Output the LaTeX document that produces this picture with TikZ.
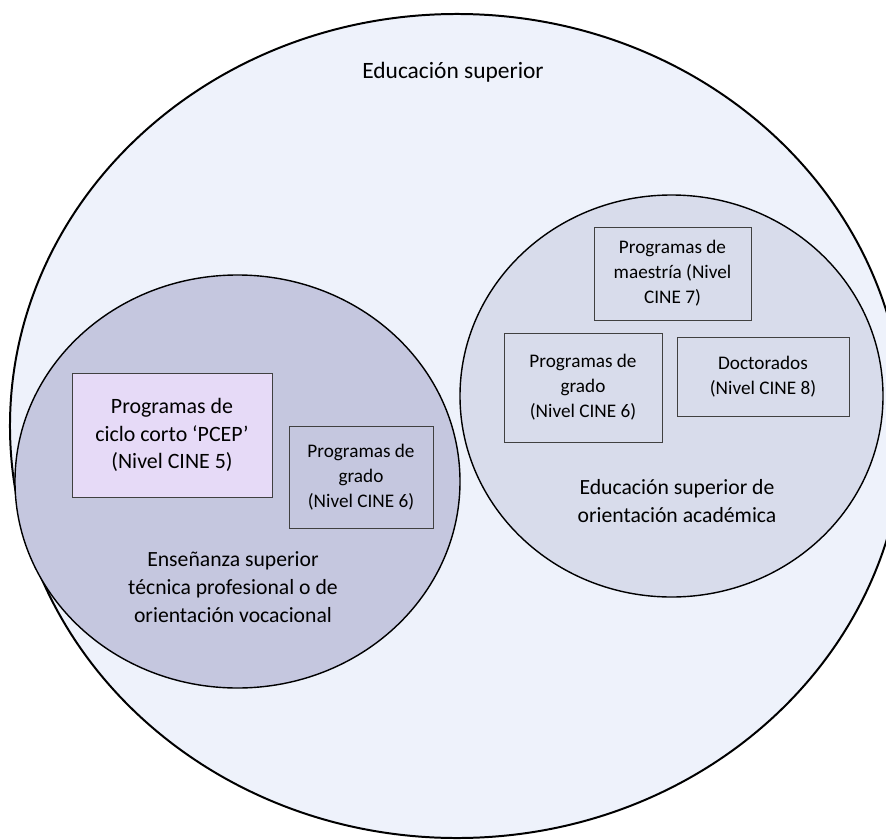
\documentclass[tikz,border=0pt]{standalone}
\usepackage{fontspec}
\setmainfont{Carlito}
\usepackage{tikz}
\usetikzlibrary{positioning,shapes.geometric}
\definecolor{outerfill}{HTML}{EEF2FB}
\definecolor{leftfill}{HTML}{C5C7DF}
\definecolor{rightfill}{HTML}{D8DCEB}
\definecolor{pcepfill}{HTML}{E6DAF7}
\tikzset{
	area/.style={ellipse, draw, inner sep=0pt},
	prog/.style={rectangle, draw=black!75, line width=0.8pt, align=center, inner sep=2pt,
		font=\fontsize{16.4}{21.3}\selectfont},
	areatext/.style={align=center, font=\fontsize{18.5}{24}\selectfont}
}

\begin{document}
\begin{tikzpicture}[x=0.03cm,y=-0.03cm]
			\useasboundingbox (0,0) rectangle (886,840);
			% circles
			\node[area,fill=outerfill,line width=1.7pt,minimum width=26.82cm,minimum height=24.72cm] (sup) at (457,426) {};
			\node[area,fill=rightfill,line width=1.2pt,minimum width=12.69cm,minimum height=12.06cm] (acad) at (671.5,396) {};
			\node[area,fill=leftfill,line width=1.2pt,minimum width=13.35cm,minimum height=12.39cm] (voc) at (237.5,481.5) {};
			
			% circle labels
			\node[areatext,font=\fontsize{20}{24}\selectfont] (suplabel) at (453,72) {Educación superior};
			\node[areatext] (voclabel) at (233,587) {Enseñanza superior\\técnica profesional o de\\orientación vocacional};
			\node[areatext] (acadlabel) at (677,501) {Educación superior de\\orientación académica};
			
			% programmes
			\node[prog,fill=pcepfill,font=\fontsize{18.7}{23.8}\selectfont,minimum width=6cm,minimum height=3.72cm] (pcep) at (172,435) {Programas de\\ciclo corto ‘PCEP’\\(Nivel CINE 5)};
			\node[prog,minimum width=4.32cm,minimum height=3.06cm] (gradovoc) at (361,477) {Programas de\\grado\\(Nivel CINE 6)};
			\node[prog,minimum width=4.71cm,minimum height=2.79cm] (maestria) at (672.5,273.5) {Programas de\\maestría (Nivel\\CINE 7)};
			\node[prog,minimum width=4.74cm,minimum height=3.27cm] (gradoacad) at (583,387.5) {Programas de\\grado\\(Nivel CINE 6)};
			\node[prog,minimum width=5.16cm,minimum height=2.37cm] (doct) at (763,376.5) {Doctorados\\(Nivel CINE 8)};
		\end{tikzpicture}
\end{document}
